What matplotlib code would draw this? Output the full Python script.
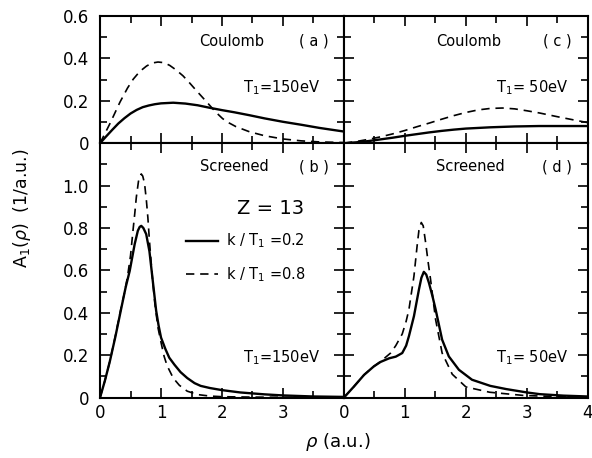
import numpy as np
import matplotlib
matplotlib.use('Agg')
import matplotlib.pyplot as plt
from matplotlib.ticker import MultipleLocator

# panel (a): Coulomb, T1 = 150 eV
rho_a_solid = [0, 0.1, 0.2, 0.3, 0.4, 0.5, 0.6, 0.7, 0.8, 0.9, 1.0, 1.2, 1.4, 1.6, 1.8,
               2.0, 2.2, 2.45, 2.7, 3.0, 3.3, 3.6, 4.0]
a_solid = [0, 0.032, 0.063, 0.093, 0.118, 0.14, 0.157, 0.17, 0.178, 0.184, 0.188, 0.191,
           0.187, 0.179, 0.167, 0.156, 0.146, 0.132, 0.117, 0.101, 0.087, 0.072, 0.055]
rho_a_dash = [0, 0.163, 0.327, 0.45, 0.544, 0.65, 0.762, 0.85, 0.95, 1.05, 1.143, 1.25,
              1.36, 1.47, 1.58, 1.7, 1.8, 1.9, 2.01, 2.12, 2.23, 2.45, 2.7, 3.0, 3.3, 3.6, 4.0]
a_dash = [0, 0.093, 0.194, 0.26, 0.302, 0.338, 0.364, 0.378, 0.383, 0.38, 0.367, 0.345,
          0.318, 0.284, 0.248, 0.21, 0.178, 0.146, 0.116, 0.095, 0.078, 0.054, 0.035, 0.02,
          0.011, 0.006, 0.003]

# panel (c): Coulomb, T1 = 50 eV
rho_c = [0, 0.2, 0.4, 0.6, 0.8, 1.0, 1.2, 1.4, 1.6, 1.8, 2.0, 2.2, 2.4, 2.6, 2.8, 3.0,
         3.2, 3.5, 3.8, 4.0]
c_solid = [0, 0.004, 0.01, 0.018, 0.026, 0.035, 0.043, 0.051, 0.058, 0.064, 0.069, 0.072,
           0.075, 0.077, 0.079, 0.08, 0.081, 0.081, 0.081, 0.081]
c_dash = [0, 0.008, 0.018, 0.03, 0.044, 0.06, 0.078, 0.095, 0.113, 0.13, 0.145, 0.157,
          0.164, 0.166, 0.162, 0.153, 0.143, 0.125, 0.108, 0.097]

# panel (b): screened, T1 = 150 eV
rho_b_solid = [0, 0.08, 0.16, 0.25, 0.35, 0.42, 0.486, 0.53, 0.568, 0.62, 0.65, 0.676, 0.71,
               0.757, 0.81, 0.865, 0.92, 0.96, 1.0, 1.07, 1.135, 1.22, 1.32, 1.43, 1.55, 1.65,
               1.8, 2.0, 2.3, 2.7, 3.0, 3.5, 4.0]
b_solid = [0, 0.08, 0.17, 0.285, 0.424, 0.52, 0.597, 0.665, 0.724, 0.787, 0.805, 0.81, 0.8,
           0.771, 0.69, 0.55, 0.41, 0.34, 0.283, 0.23, 0.188, 0.155, 0.12, 0.092, 0.068, 0.055,
           0.045, 0.035, 0.024, 0.015, 0.01, 0.005, 0.003]
rho_b_dash = [0, 0.08, 0.16, 0.25, 0.35, 0.405, 0.45, 0.5, 0.54, 0.57, 0.595, 0.63, 0.655,
              0.676, 0.7, 0.73, 0.76, 0.784, 0.81, 0.86, 0.9, 0.95, 1.0, 1.05, 1.1, 1.2, 1.3,
              1.43, 1.6, 1.8, 2.0, 2.5, 4.0]
b_dash = [0, 0.08, 0.17, 0.29, 0.43, 0.5, 0.57, 0.67, 0.787, 0.87, 0.945, 1.02, 1.045, 1.055,
          1.045, 1.01, 0.93, 0.85, 0.74, 0.56, 0.44, 0.33, 0.26, 0.195, 0.15, 0.092, 0.058,
          0.03, 0.014, 0.007, 0.004, 0.002, 0.0]

# panel (d): screened, T1 = 50 eV
rho_d_solid = [0, 0.164, 0.33, 0.49, 0.6, 0.74, 0.85, 0.956, 1.02, 1.066, 1.148, 1.23, 1.27,
               1.31, 1.35, 1.393, 1.45, 1.503, 1.61, 1.72, 1.885, 2.1, 2.4, 2.66, 3.0, 3.21,
               3.6, 4.0]
d_solid = [0, 0.052, 0.107, 0.147, 0.168, 0.185, 0.193, 0.21, 0.245, 0.29, 0.384, 0.51, 0.565,
           0.593, 0.58, 0.542, 0.48, 0.416, 0.273, 0.194, 0.131, 0.084, 0.055, 0.04, 0.024,
           0.016, 0.009, 0.005]
rho_d_dash = [0, 0.164, 0.33, 0.49, 0.6, 0.765, 0.85, 0.956, 1.02, 1.066, 1.148, 1.2, 1.23,
              1.268, 1.3, 1.34, 1.38, 1.42, 1.503, 1.61, 1.776, 2.0, 2.39, 2.94, 3.5, 4.0]
d_dash = [0, 0.052, 0.107, 0.147, 0.17, 0.21, 0.245, 0.3, 0.36, 0.416, 0.573, 0.716, 0.79,
          0.826, 0.81, 0.73, 0.64, 0.558, 0.368, 0.21, 0.11, 0.05, 0.025, 0.01, 0.004, 0.002]

plt.rcParams['font.family'] = 'DejaVu Sans'
plt.rcParams['axes.linewidth'] = 1.5

fig, axes = plt.subplots(2, 2, figsize=(5.92, 4.58), dpi=100,
                         gridspec_kw={'height_ratios': [0.6, 1.2], 'hspace': 0, 'wspace': 0})
fig.subplots_adjust(left=0.169, right=0.993, top=0.965, bottom=0.132)
ax_a, ax_c = axes[0]
ax_b, ax_d = axes[1]

dash = (0, (5, 3.5))
kw_s = dict(color='black', lw=1.7, solid_joinstyle='round')
kw_d = dict(color='black', lw=1.2, linestyle=dash)

ax_a.plot(rho_a_solid, a_solid, **kw_s)
ax_a.plot(rho_a_dash, a_dash, **kw_d)
ax_c.plot(rho_c, c_solid, **kw_s)
ax_c.plot(rho_c, c_dash, **kw_d)
l1, = ax_b.plot(rho_b_solid, b_solid, **kw_s)
l2, = ax_b.plot(rho_b_dash, b_dash, **kw_d)
ax_d.plot(rho_d_solid, d_solid, **kw_s)
ax_d.plot(rho_d_dash, d_dash, **kw_d)

for ax in axes.flat:
    ax.set_xlim(0, 4)
    ax.xaxis.set_major_locator(MultipleLocator(1))
    ax.xaxis.set_minor_locator(MultipleLocator(0.5))
    ax.yaxis.set_major_locator(MultipleLocator(0.2))
    ax.yaxis.set_minor_locator(MultipleLocator(0.1))
    ax.tick_params(which='both', direction='in', top=True, right=True, width=1.2, labelsize=12)
    ax.tick_params(which='major', length=7)
    ax.tick_params(which='minor', length=5)
for ax in axes[0]:
    ax.set_ylim(0, 0.6)
    ax.tick_params(labelbottom=False)
for ax in axes[1]:
    ax.set_ylim(0, 1.2)
for ax in axes[:, 1]:
    ax.tick_params(labelleft=False)

ax_a.set_yticks([0, 0.2, 0.4, 0.6])
ax_a.set_yticklabels(['0', '0.2', '0.4', '0.6'])
ax_b.set_yticks([0, 0.2, 0.4, 0.6, 0.8, 1.0])
ax_b.set_yticklabels(['0', '0.2', '0.4', '0.6', '0.8', '1.0'])
ax_b.set_xticks([0, 1, 2, 3])
ax_b.set_xticklabels(['0', '1', '2', '3'])
ax_d.set_xticks([0, 1, 2, 3, 4])
ax_d.set_xticklabels(['0', '1', '2', '3', '4'])
for ax in axes.flat:
    ax.tick_params(axis='y', pad=8)
    ax.tick_params(axis='x', pad=5)

fs = 10.5
ax_a.text(2.15, 0.48, 'Coulomb', fontsize=fs, ha='center', va='center')
ax_a.text(3.5, 0.48, '( a )', fontsize=fs, ha='center', va='center')
ax_a.text(2.97, 0.26, r'T$_1$=150eV', fontsize=fs, ha='center', va='center')
ax_c.text(2.05, 0.48, 'Coulomb', fontsize=fs, ha='center', va='center')
ax_c.text(3.5, 0.48, '( c )', fontsize=fs, ha='center', va='center')
ax_c.text(3.09, 0.26, r'T$_1$= 50eV', fontsize=fs, ha='center', va='center')
ax_b.text(2.2, 1.09, 'Screened', fontsize=fs, ha='center', va='center')
ax_b.text(3.5, 1.09, '( b )', fontsize=fs, ha='center', va='center')
ax_b.text(2.97, 0.19, r'T$_1$=150eV', fontsize=fs, ha='center', va='center')
ax_b.text(2.8, 0.89, 'Z = 13', fontsize=14, ha='center', va='center')
ax_d.text(2.08, 1.09, 'Screened', fontsize=fs, ha='center', va='center')
ax_d.text(3.5, 1.09, '( d )', fontsize=fs, ha='center', va='center')
ax_d.text(3.09, 0.19, r'T$_1$= 50eV', fontsize=fs, ha='center', va='center')

ax_b.legend([l1, l2], [r'k / T$_1$ =0.2', r'k / T$_1$ =0.8'], loc='upper left',
            bbox_to_anchor=(0.33, 0.675), frameon=False, fontsize=fs,
            handlelength=2.2, handletextpad=0.5, labelspacing=1.0, borderaxespad=0)

fig.text(0.037, 0.545, r'A$_1$($\rho$)  (1/a.u.)', fontsize=12.5, rotation=90,
         ha='center', va='center')
fig.text(0.571, 0.035, r'$\rho$ (a.u.)', fontsize=13, ha='center', va='center')

fig.savefig('out.png', dpi=100)
